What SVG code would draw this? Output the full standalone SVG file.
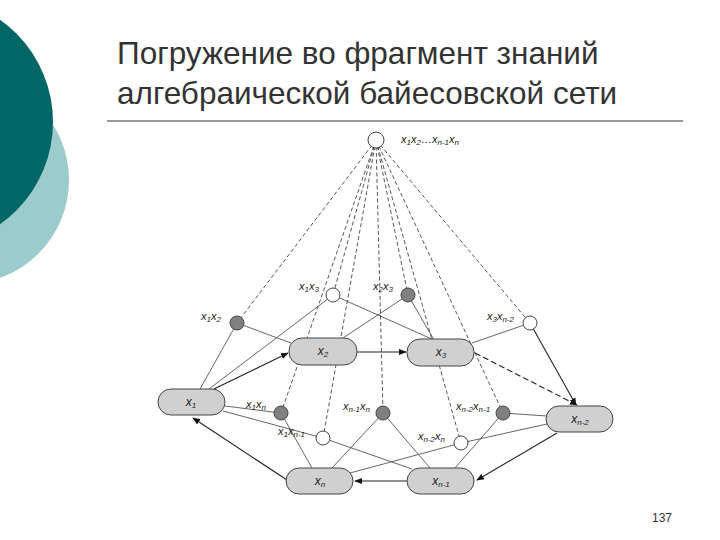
<svg xmlns="http://www.w3.org/2000/svg" width="720" height="540" viewBox="0 0 720 540">
<defs>
<style>
.t{font-family:"Liberation Sans",Arial,sans-serif}
.ttl{font-size:31.5px;fill:#333}
.lb{font-family:"Liberation Sans",Arial,sans-serif;font-size:11px;fill:#222;font-style:italic}
.pl{font-family:"Liberation Sans",Arial,sans-serif;font-size:12px;fill:#222;font-style:italic}
.pill{fill:#d0d0d0;stroke:#444;stroke-width:1}
.cg{fill:#808080;stroke:#444;stroke-width:1}
.cw{fill:#fff;stroke:#444;stroke-width:1}
.s{stroke:#555;stroke-width:0.9;fill:none}
.d{stroke:#444;stroke-width:0.9;fill:none;stroke-dasharray:4 2.5}
.a{stroke:#222;stroke-width:1.1;fill:none;marker-end:url(#ar)}
.ad{stroke:#222;stroke-width:1.1;fill:none;stroke-dasharray:6 3;marker-end:url(#ar)}
</style>
<marker id="ar" viewBox="0 0 10 10" refX="9" refY="5" markerWidth="7" markerHeight="7" orient="auto"><path d="M0,1 L10,5 L0,9 z" fill="#111"/></marker>
</defs>
<rect width="720" height="540" fill="#fff"/>
<circle cx="-35" cy="180" r="104" fill="#9ccbcb"/>
<circle cx="-72" cy="122" r="125" fill="#036666"/>
<text class="t ttl" x="117" y="64">Погружение во фрагмент знаний</text>
<text class="t ttl" x="117" y="104">алгебраической байесовской сети</text>
<line x1="107" y1="121" x2="683" y2="121" stroke="#333" stroke-width="1"/>
<text class="t" x="652" y="522" font-size="12" fill="#333">137</text>

<g id="connectors">
<line class="d" x1="376" y1="140" x2="237" y2="323"/>
<line class="d" x1="376" y1="140" x2="333" y2="295"/>
<line class="d" x1="376" y1="140" x2="408" y2="295"/>
<line class="d" x1="376" y1="140" x2="530" y2="323"/>
<line class="d" x1="376" y1="140" x2="281" y2="413"/>
<line class="d" x1="376" y1="140" x2="323" y2="438"/>
<line class="d" x1="376" y1="140" x2="383" y2="413"/>
<line class="d" x1="376" y1="140" x2="461" y2="443"/>
<line class="d" x1="376" y1="140" x2="503" y2="413"/>
<line class="s" x1="237" y1="323" x2="200" y2="389"/>
<line class="s" x1="237" y1="323" x2="291" y2="343"/>
<line class="s" x1="333" y1="295" x2="209" y2="389"/>
<line class="s" x1="333" y1="295" x2="434" y2="340"/>
<line class="s" x1="408" y1="295" x2="343" y2="338"/>
<line class="s" x1="408" y1="295" x2="434" y2="340"/>
<line class="s" x1="530" y1="323" x2="472" y2="343"/>
<line class="a" x1="530" y1="323" x2="576" y2="405"/>
<line class="a" x1="214" y1="389" x2="288" y2="353"/>
<line class="a" x1="357" y1="352" x2="406" y2="352"/>
<line class="ad" x1="475" y1="353" x2="577" y2="405"/>
<line class="a" x1="557" y1="433" x2="477" y2="480"/>
<line class="a" x1="407" y1="481" x2="355" y2="481"/>
<line class="a" x1="287" y1="480" x2="193" y2="418"/>
<line class="s" x1="225" y1="406" x2="281" y2="413"/>
<line class="s" x1="281" y1="413" x2="312" y2="468"/>
<line class="s" x1="223" y1="411" x2="323" y2="438"/>
<line class="s" x1="323" y1="438" x2="412" y2="469"/>
<line class="s" x1="383" y1="413" x2="332" y2="468"/>
<line class="s" x1="383" y1="413" x2="430" y2="468"/>
<line class="s" x1="461" y1="443" x2="350" y2="473"/>
<line class="s" x1="461" y1="443" x2="547" y2="424"/>
<line class="s" x1="503" y1="413" x2="455" y2="468"/>
<line class="s" x1="503" y1="413" x2="547" y2="416"/>
</g>

<g id="top"><circle class="cw" cx="376" cy="140" r="8"/>
<text class="lb" x="401" y="143">x<tspan font-size="8" dy="2">1</tspan><tspan dy="-2">x</tspan><tspan font-size="8" dy="2">2</tspan><tspan dy="-2">…x</tspan><tspan font-size="8" dy="2">n-1</tspan><tspan dy="-2">x</tspan><tspan font-size="8" dy="2">n</tspan></text></g>

<g id="c12"><circle class="cg" cx="237" cy="323" r="7"/><text class="lb" x="201" y="320">x<tspan font-size="8" dy="2">1</tspan><tspan dy="-2">x</tspan><tspan font-size="8" dy="2">2</tspan></text></g>
<g id="c13"><circle class="cw" cx="333" cy="295" r="7"/><text class="lb" x="299" y="290">x<tspan font-size="8" dy="2">1</tspan><tspan dy="-2">x</tspan><tspan font-size="8" dy="2">3</tspan></text></g>
<g id="c23"><circle class="cg" cx="408" cy="295" r="7"/><text class="lb" x="373" y="290">x<tspan font-size="8" dy="2">2</tspan><tspan dy="-2">x</tspan><tspan font-size="8" dy="2">3</tspan></text></g>
<g id="c3n2"><circle class="cw" cx="530" cy="323" r="7"/><text class="lb" x="487" y="320">x<tspan font-size="8" dy="2">3</tspan><tspan dy="-2">x</tspan><tspan font-size="8" dy="2">n-2</tspan></text></g>
<g id="c1n"><circle class="cg" cx="281" cy="413" r="7"/><text class="lb" x="246" y="408">x<tspan font-size="8" dy="2">1</tspan><tspan dy="-2">x</tspan><tspan font-size="8" dy="2">n</tspan></text></g>
<g id="c1n1"><circle class="cw" cx="323" cy="438" r="7"/><text class="lb" x="278" y="435">x<tspan font-size="8" dy="2">1</tspan><tspan dy="-2">x</tspan><tspan font-size="8" dy="2">n-1</tspan></text></g>
<g id="cn1n"><circle class="cg" cx="383" cy="413" r="7"/><text class="lb" x="343" y="410">x<tspan font-size="8" dy="2">n-1</tspan><tspan dy="-2">x</tspan><tspan font-size="8" dy="2">n</tspan></text></g>
<g id="cn2n"><circle class="cw" cx="461" cy="443" r="7"/><text class="lb" x="418" y="440">x<tspan font-size="8" dy="2">n-2</tspan><tspan dy="-2">x</tspan><tspan font-size="8" dy="2">n</tspan></text></g>
<g id="cn2n1"><circle class="cg" cx="503" cy="413" r="7"/><text class="lb" x="456" y="410">x<tspan font-size="8" dy="2">n-2</tspan><tspan dy="-2">x</tspan><tspan font-size="8" dy="2">n-1</tspan></text></g>

<g id="x1"><rect class="pill" x="158" y="389" width="67" height="26" rx="13"/><text class="pl" x="191" y="406" text-anchor="middle">x<tspan font-size="8" dy="2">1</tspan></text></g>
<g id="x2"><rect class="pill" x="289" y="338" width="68" height="27" rx="13"/><text class="pl" x="323" y="355" text-anchor="middle">x<tspan font-size="8" dy="2">2</tspan></text></g>
<g id="x3"><rect class="pill" x="407" y="339" width="67" height="27" rx="13"/><text class="pl" x="441" y="356" text-anchor="middle">x<tspan font-size="8" dy="2">3</tspan></text></g>
<g id="xn2"><rect class="pill" x="546" y="406" width="67" height="26" rx="13"/><text class="pl" x="580" y="423" text-anchor="middle">x<tspan font-size="8" dy="2">n-2</tspan></text></g>
<g id="xn"><rect class="pill" x="286" y="468" width="67" height="26" rx="13"/><text class="pl" x="320" y="485" text-anchor="middle">x<tspan font-size="8" dy="2">n</tspan></text></g>
<g id="xn1"><rect class="pill" x="407" y="468" width="67" height="26" rx="13"/><text class="pl" x="441" y="485" text-anchor="middle">x<tspan font-size="8" dy="2">n-1</tspan></text></g>
</svg>
